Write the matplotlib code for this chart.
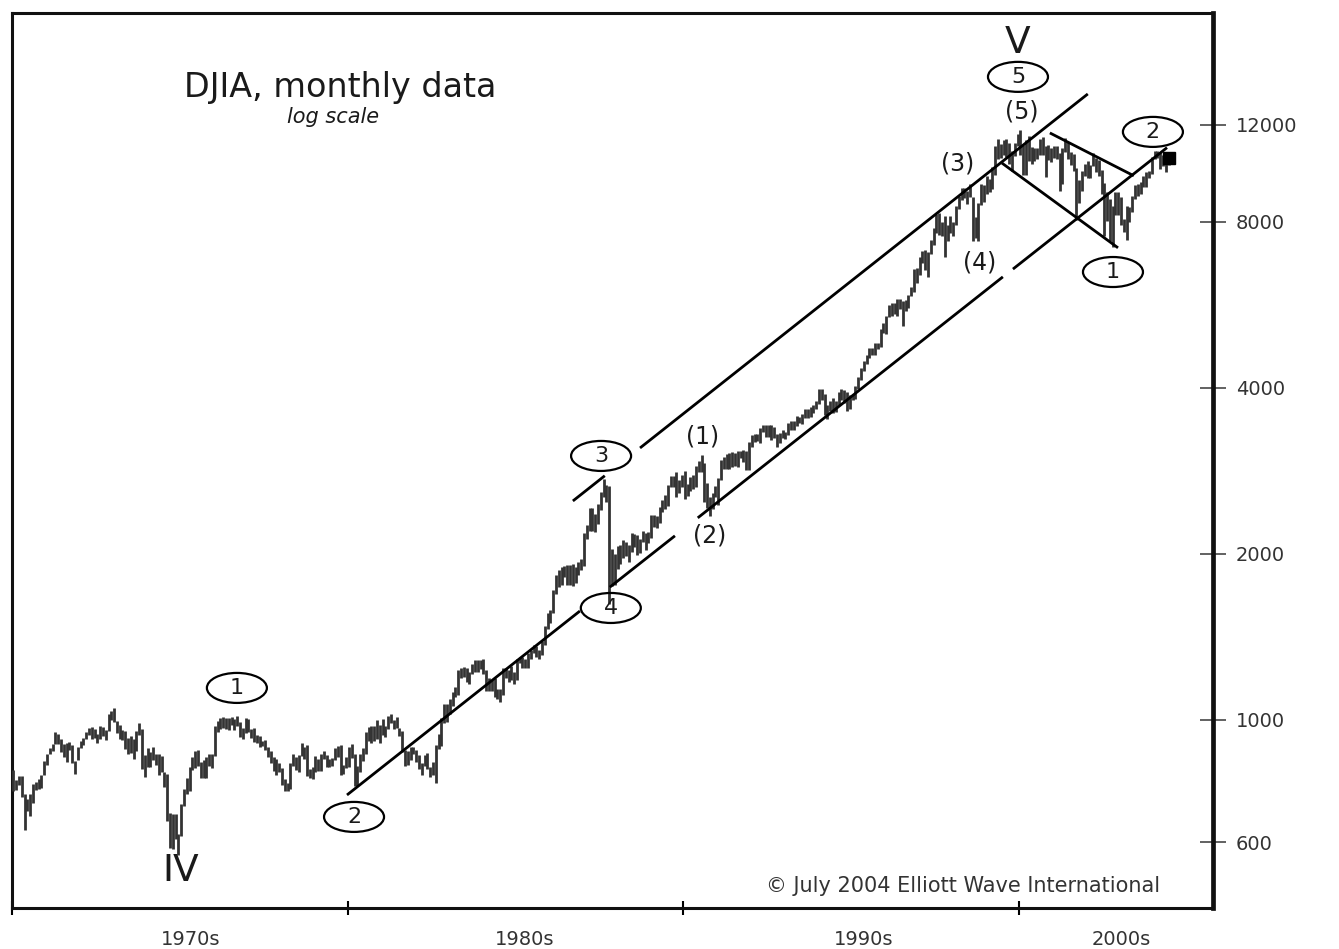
import numpy as np
import matplotlib
matplotlib.use("Agg")
import matplotlib.pyplot as plt
from matplotlib.patches import Ellipse
from matplotlib.transforms import Affine2D, ScaledTranslation
from matplotlib.ticker import NullLocator, FixedLocator, FixedFormatter

plt.rcParams['font.family'] = ['DejaVu Sans']

# ---------------- data: DJIA monthly high / low, Jan 1970 - Jun 2004 ----------------
start_year = 1970
month_high = [
    811, 778, 791, 792, 735, 720, 735, 765, 773, 783, 795, 842,          # 1970
    869, 891, 906, 951, 941, 923, 903, 908, 912, 901, 842, 892,          # 1971
    917, 928, 950, 968, 971, 962, 942, 974, 970, 958, 1025, 1036,        # 1972
    1052, 996, 979, 960, 956, 927, 937, 924, 953, 987, 964, 865,         # 1973
    891, 873, 892, 869, 868, 859, 806, 798, 677, 674, 675, 620,          # 1974
    705, 750, 786, 821, 858, 879, 882, 840, 845, 855, 866, 866,          # 1975
    975, 995, 1009, 1012, 1007, 1008, 1011, 1002, 1015, 990, 966, 1009,  # 1976
    1004, 961, 968, 938, 937, 916, 918, 893, 878, 856, 851, 835,         # 1977
    817, 782, 769, 837, 866, 855, 862, 907, 895, 901, 815, 823,          # 1978
    859, 849, 866, 878, 862, 850, 852, 888, 898, 900, 830, 858,          # 1979
    894, 904, 867, 825, 867, 888, 951, 971, 974, 975, 1000, 978,         # 1980
    1004, 975, 1015, 1024, 1000, 1011, 967, 953, 881, 880, 893, 895,     # 1981
    882, 864, 834, 862, 870, 823, 839, 902, 944, 1007, 1071, 1071,       # 1982
    1092, 1126, 1146, 1230, 1240, 1248, 1243, 1220, 1265, 1287, 1287, 1287,  # 1983
    1292, 1230, 1190, 1180, 1190, 1140, 1140, 1240, 1240, 1230, 1250, 1220,  # 1984
    1290, 1300, 1300, 1290, 1320, 1340, 1370, 1360, 1340, 1390, 1480, 1560,  # 1985
    1580, 1720, 1830, 1870, 1890, 1900, 1910, 1910, 1920, 1890, 1930, 1960,  # 1986
    2180, 2260, 2420, 2420, 2360, 2460, 2590, 2740, 2670, 2660, 2040, 2000,  # 1987
    2070, 2080, 2120, 2100, 2080, 2180, 2170, 2160, 2130, 2200, 2180, 2190,  # 1988
    2350, 2350, 2340, 2430, 2510, 2560, 2670, 2770, 2770, 2810, 2720, 2780,  # 1989
    2830, 2680, 2760, 2780, 2890, 2950, 3020, 2920, 2690, 2540, 2580, 2660,  # 1990
    2750, 2960, 3000, 3040, 3050, 3060, 3050, 3070, 3070, 3090, 3080, 3190,  # 1991
    3290, 3300, 3300, 3380, 3420, 3420, 3420, 3420, 3400, 3300, 3320, 3360,  # 1992
    3330, 3460, 3490, 3480, 3560, 3550, 3580, 3660, 3660, 3700, 3720, 3790,  # 1993
    3990, 3990, 3900, 3720, 3780, 3830, 3790, 3940, 3980, 3960, 3930, 3880,  # 1994
    3900, 4030, 4190, 4340, 4480, 4590, 4730, 4720, 4820, 4820, 5110, 5240,  # 1995
    5400, 5650, 5700, 5700, 5800, 5800, 5750, 5780, 5900, 6100, 6560, 6600,  # 1996
    6900, 7080, 7120, 7050, 7420, 7800, 8280, 8300, 8000, 8200, 7900, 8200,  # 1997
    7990, 8550, 8900, 9200, 9230, 9100, 9370, 8880, 8160, 8650, 9380, 9350,  # 1998
    9680, 9560, 10080, 11000, 11300, 11070, 11250, 11330, 11100, 10760, 11100, 11570,  # 1999
    11750, 11050, 11250, 11450, 10960, 10900, 10900, 11320, 11400, 10990, 11010, 10900,  # 2000
    11000, 10980, 10650, 10900, 11350, 11150, 10700, 10620, 10000, 9550, 9900, 10200,  # 2001
    10300, 10150, 10670, 10450, 10360, 9950, 9400, 9050, 8800, 8560, 9050, 9050,  # 2002
    8870, 8110, 8550, 8530, 8900, 9350, 9390, 9460, 9690, 9850, 9900, 10500,  # 2003
    10750, 10760, 10700, 10600, 10300, 10500,                            # 2004
]
month_low = [
    744, 746, 763, 724, 631, 683, 669, 708, 745, 748, 754, 794,          # 1970
    830, 868, 877, 903, 906, 873, 858, 839, 883, 837, 797, 846,          # 1971
    889, 901, 925, 940, 925, 926, 910, 925, 936, 921, 956, 1000,         # 1972
    990, 947, 922, 920, 886, 869, 870, 851, 880, 940, 815, 788,          # 1973
    823, 820, 846, 827, 795, 803, 757, 656, 585, 584, 608, 570,          # 1974
    616, 698, 733, 742, 810, 817, 826, 784, 784, 784, 825, 818,          # 1975
    859, 951, 962, 966, 963, 958, 979, 960, 973, 932, 924, 946,          # 1976
    952, 928, 913, 907, 894, 896, 883, 856, 837, 808, 796, 806,          # 1977
    763, 742, 742, 751, 826, 812, 805, 860, 851, 792, 785, 783,          # 1978
    805, 807, 807, 849, 821, 823, 825, 846, 857, 796, 797, 818,          # 1979
    820, 854, 759, 759, 805, 842, 866, 917, 908, 917, 924, 908,          # 1980
    938, 931, 964, 989, 963, 967, 937, 873, 824, 830, 846, 866,          # 1981
    838, 816, 795, 825, 816, 788, 795, 770, 886, 896, 986, 990,          # 1982
    1027, 1059, 1100, 1112, 1190, 1195, 1174, 1161, 1210, 1220, 1220, 1237,  # 1983
    1210, 1130, 1130, 1130, 1100, 1090, 1078, 1110, 1190, 1170, 1180, 1160,  # 1984
    1180, 1270, 1240, 1240, 1240, 1290, 1320, 1300, 1290, 1310, 1370, 1460,  # 1985
    1500, 1560, 1690, 1740, 1760, 1820, 1760, 1760, 1750, 1770, 1830, 1870,  # 1986
    1900, 2130, 2200, 2200, 2190, 2270, 2400, 2540, 2480, 1620, 1750, 1760,  # 1987
    1880, 1920, 1970, 1980, 1930, 2020, 2060, 1990, 2010, 2100, 2030, 2090,  # 1988
    2140, 2240, 2230, 2280, 2380, 2410, 2440, 2640, 2640, 2540, 2580, 2650,  # 1989
    2520, 2550, 2600, 2620, 2640, 2810, 2820, 2480, 2420, 2340, 2410, 2540,  # 1990
    2450, 2720, 2850, 2850, 2850, 2880, 2890, 2880, 2980, 2940, 2840, 2840,  # 1991
    3130, 3190, 3210, 3180, 3330, 3260, 3260, 3220, 3240, 3130, 3180, 3250,  # 1992
    3230, 3290, 3360, 3360, 3410, 3450, 3440, 3530, 3530, 3540, 3600, 3670,  # 1993
    3740, 3800, 3570, 3520, 3630, 3600, 3620, 3720, 3800, 3760, 3640, 3660,  # 1994
    3800, 3820, 3980, 4130, 4290, 4420, 4530, 4580, 4590, 4700, 4750, 5030,  # 1995
    5000, 5370, 5400, 5450, 5400, 5570, 5170, 5510, 5580, 5880, 5970, 6200,  # 1996
    6400, 6740, 6550, 6360, 7000, 7250, 7640, 7570, 7550, 6900, 7400, 7650,  # 1997
    7540, 7900, 8450, 8750, 8850, 8630, 8860, 7400, 7470, 7400, 8600, 8690,  # 1998
    9000, 9050, 9180, 9730, 10400, 10440, 10600, 10500, 10200, 9880, 10550, 10990,  # 1999
    10600, 9730, 9730, 10300, 10200, 10330, 10400, 10600, 10580, 9650, 10350, 10280,  # 2000
    10430, 10400, 9100, 9390, 10700, 10400, 10150, 9900, 8060, 8650, 9100, 9700,  # 2001
    9600, 9600, 10100, 9860, 9700, 9000, 7530, 8040, 7400, 7200, 8250, 8230,  # 2002
    7900, 7670, 7420, 7990, 8350, 8800, 8900, 9000, 9250, 9270, 9600, 9780,  # 2003
    10400, 10450, 9990, 10100, 9850, 10150,                              # 2004
]
last_close = 10435  # June 2004

# axis ticks and labels
y_ticks = [600, 1000, 2000, 4000, 8000, 12000]
y_tick_labels = ["600", "1000", "2000", "4000", "8000", "12000"]
decade_ticks = [1970, 1980, 1990, 2000]
decade_label_pos = [1975.33, 1985.28, 1995.38, 2003.04]
decade_labels = ["1970s", "1980s", "1990s", "2000s"]

# Elliott-wave annotation geometry (year, value)
channel_lower = [((1979.98, 731), (1986.92, 1576)),
                 ((1987.81, 1741), (1989.75, 2157)),
                 ((1990.43, 2325), (1999.52, 6360)),
                 ((1999.82, 6570), (2004.41, 10910))]
channel_upper = [((1986.71, 2495), (1987.66, 2772)),
                 ((1988.71, 3113), (2002.05, 13650))]
wedge_lines = [((2000.92, 11600), (2003.42, 9700)),
               ((1999.49, 10230), (2002.95, 7180))]
circled_labels = [("1", 1976.70, 1143), ("2", 1980.19, 667), ("3", 1987.55, 3011),
                  ("4", 1987.84, 1596), ("5", 1999.97, 14660), ("1", 2002.80, 6490),
                  ("2", 2003.99, 11650)]
paren_labels = [("(1)", 1990.58, 3260), ("(2)", 1990.79, 2157), ("(3)", 1998.18, 10230),
                ("(4)", 1998.84, 6740), ("(5)", 2000.09, 12660)]
roman_labels = [("IV", 1975.03, 532), ("V", 1999.97, 16870)]

# ---------------- figure ----------------
W, H = 1339, 949
fig = plt.figure(figsize=(W / 100, H / 100), dpi=100)
ax = fig.add_axes([12 / W, 1 - 908 / H, (1213 - 12) / W, (908 - 13) / H])
ax.set_yscale('log')
ax.set_xlim(1970.0, 2005.78)
ax.set_ylim(456, 19140)

n = len(month_high)
x = start_year + (np.arange(n) + 0.5) / 12.0
ax.vlines(x, month_low, month_high, color='#333333', lw=2.0, zorder=3)
ax.plot([x[-1]], [last_close], marker='s', ms=9, color='black', zorder=4)

ink = 'black'
for seg in channel_lower + channel_upper + wedge_lines:
    (x0, y0), (x1, y1) = seg
    ax.plot([x0, x1], [y0, y1], color=ink, lw=2.0, solid_capstyle='butt', zorder=5)


def place_ellipse(xd, yd, w=60, h=30):
    tr = Affine2D() + ScaledTranslation(xd, yd, ax.transData)
    e = Ellipse((0, 0), w, h, transform=tr, fc='none', ec=ink, lw=1.6, zorder=6)
    ax.add_artist(e)


for txt, xd, yd in circled_labels:
    place_ellipse(xd, yd)
    ax.text(xd, yd, txt, ha='center', va='center', fontsize=16, color='#1a1a1a', zorder=7)
for txt, xd, yd in paren_labels:
    ax.text(xd, yd, txt, ha='center', va='center', fontsize=17, color='#1a1a1a', zorder=7)
for txt, xd, yd in roman_labels:
    ax.text(xd, yd, txt, ha='center', va='center', fontsize=27, color='#1a1a1a', zorder=7)

ax.text(0.273, 0.917, "DJIA, monthly data", transform=ax.transAxes, ha='center',
        va='center', fontsize=24, color='#1a1a1a')
ax.text(0.267, 0.884, "log scale", transform=ax.transAxes, ha='center',
        va='center', fontsize=15, style='italic', color='#1a1a1a')
ax.text(0.956, 0.0246, "\u00a9 July 2004 Elliott Wave International", transform=ax.transAxes,
        ha='right', va='center', fontsize=15, color='#333333')

# y axis on right
ax.yaxis.tick_right()
ax.yaxis.set_major_locator(FixedLocator(y_ticks))
ax.yaxis.set_major_formatter(FixedFormatter(y_tick_labels))
ax.yaxis.set_minor_locator(NullLocator())
ax.tick_params(axis='y', which='major', direction='inout', length=19, width=1.3,
               color='#555555', pad=7, labelsize=14, labelcolor='#333333')

# x axis: decade boundary ticks, labels centred between
ax.xaxis.set_major_locator(FixedLocator(decade_ticks))
ax.xaxis.set_major_formatter(FixedFormatter([""] * len(decade_ticks)))
ax.xaxis.set_minor_locator(FixedLocator(decade_label_pos))
ax.xaxis.set_minor_formatter(FixedFormatter(decade_labels))
ax.tick_params(axis='x', which='major', direction='inout', length=10, width=1.5, color='black')
ax.tick_params(axis='x', which='minor', length=0, pad=16, labelsize=14, labelcolor='#333333')

for side in ['top', 'left', 'bottom']:
    ax.spines[side].set_linewidth(2.2)
    ax.spines[side].set_color('#111111')
ax.spines['right'].set_linewidth(3.4)
ax.spines['right'].set_color('#111111')

fig.savefig("out.png", dpi=100)
